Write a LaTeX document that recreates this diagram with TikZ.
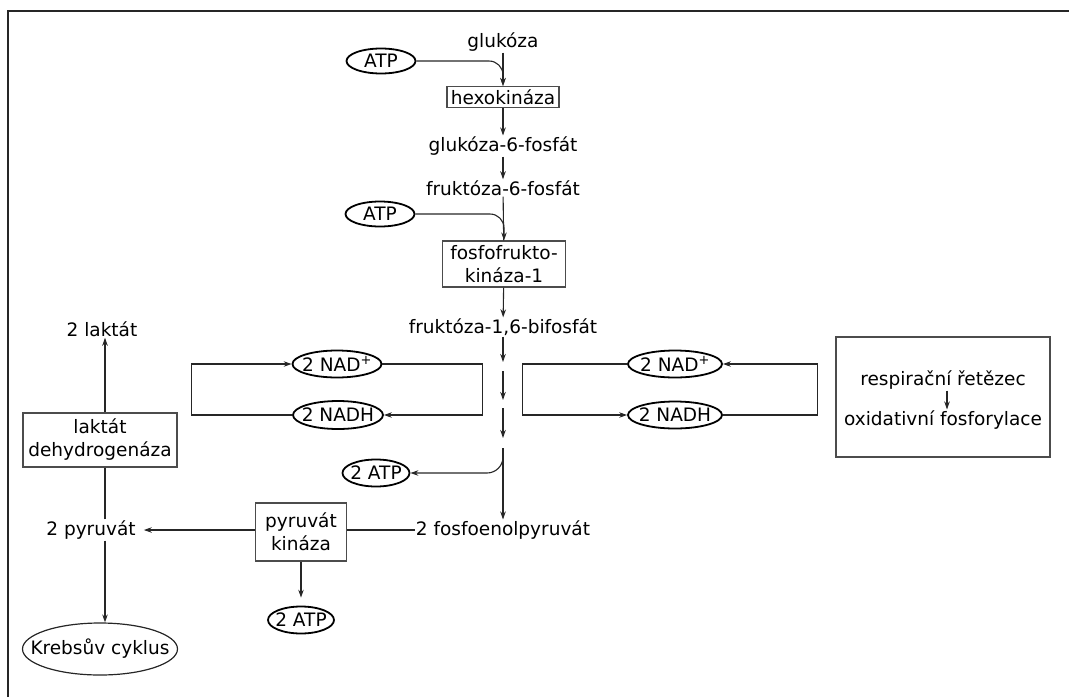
\documentclass[tikz,border=0pt]{standalone}
\usepackage{fontspec}
\setmainfont{DejaVu Sans}
\usetikzlibrary{shapes.geometric,arrows.meta}
\begin{document}
\begin{tikzpicture}[x=1pt,y=-1pt,
 font=\fontsize{18.5}{23}\selectfont,
 conn/.style={draw=black!85, line width=1.1pt},
 arr/.style={conn,-{Stealth[length=8pt,width=5.5pt]}},
 txt/.style={inner sep=1pt},
 box/.style={draw=black!70, line width=1.2pt, inner sep=0pt, align=center},
 oval/.style={ellipse, draw=black, line width=1.8pt, inner xsep=-14pt, inner ysep=0pt},
]
\useasboundingbox (0,0) rectangle (1069,697);
\draw[line width=2pt, black!85] (8,697) -- (8,11) -- (1069,11);

% main column
\node[txt] (glu) at (503,42) {glukóza};
\node[oval, minimum width=69pt, minimum height=25pt] (atp1) at (381,61) {ATP};
\node[box, minimum width=112pt, minimum height=21pt] (hexo) at (503,97) {hexokináza};
\node[txt] (g6p) at (503,146) {glukóza-6-fosfát};
\node[txt] (f6p) at (503,188) {fruktóza-6-fosfát};
\node[oval, minimum width=69pt, minimum height=25pt] (atp2) at (380,214) {ATP};
\node[box, minimum width=123pt, minimum height=46pt] (pfk) at (504,264) {fosfofrukto-\\kináza-1};
\node[txt] (f16) at (503,327) {fruktóza-1,6-bifosfát};
\node[txt] (pep) at (503,530) {2 fosfoenolpyruvát};

\draw[arr] (glu) -- (hexo);
\draw[arr, rounded corners=14pt] (atp1.east) -| (hexo.north);
\draw[arr] (hexo) -- (g6p);
\draw[arr] (g6p) -- (f6p);
\draw[conn] (f6p) -- (pfk);
\draw[arr, rounded corners=14pt] (atp2.east) -| (pfk.north);
\draw[arr] (pfk) -- (f16);

\coordinate (s1b) at (503,362);
\coordinate (s2a) at (503,371);
\coordinate (s2b) at (503,400);
\coordinate (s3a) at (503,408);
\coordinate (s3b) at (503,438);
\coordinate (s4a) at (503,448);
\draw[arr] (f16.south) -- (s1b);
\draw[arr] (s2a) -- (s2b);
\draw[arr] (s3a) -- (s3b);
\draw[arr] (s4a) -- (pep.north);

\node[oval, minimum width=67pt, minimum height=27pt] (atp3) at (376,473) {2 ATP};
\draw[arr, rounded corners=16pt] (s4a) |- (atp3.east);

% left NAD loop
\node[oval, minimum width=89pt, minimum height=27pt] (nadp1) at (337,364) {2 NAD\textsuperscript{+}};
\node[oval, minimum width=90pt, minimum height=28pt] (nadh1) at (338,415) {2 NADH};
\draw[arr] (nadp1.east) -- ++(100,0) |- (nadh1.east);
\draw[arr] (nadh1.west) -- ++(-101,0) |- (nadp1.west);

% right NAD loop
\node[oval, minimum width=94pt, minimum height=27pt] (nadp2) at (675,364) {2 NAD\textsuperscript{+}};
\node[oval, minimum width=94pt, minimum height=27pt] (nadh2) at (675,415) {2 NADH};
\draw[arr] (nadp2.west) -- ++(-105,0) |- (nadh2.west);
\draw[arr] (nadh2.east) -- ++(95,0) |- (nadp2.east);

% respiratory chain box
\node[box, minimum width=214pt, minimum height=120pt] (resp) at (943,397) {};
\node[txt] (rc) at (943,380) {respirační řetězec};
\node[txt] (of) at (943,420) {oxidativní fosforylace};
\draw[arr] ([xshift=4pt]rc.south) -- ([xshift=4pt]of.north);

% pyruvate kinase
\node[box, minimum width=91pt, minimum height=58pt] (pk) at (301,532) {pyruvát\\kináza};
\node[txt] (pyr) at (91,530) {2 pyruvát};
\node[oval, minimum width=66pt, minimum height=27pt] (atp4) at (301,620) {2 ATP};
\draw[conn] (pep.west) -- (pk.east |- pep.west);
\draw[arr, shorten >=7pt] (pk.west |- pep.west) -- (pyr.east);
\draw[arr, shorten >=8pt] (pk.south) -- (atp4.north);

% lactate and Krebs
\node[box, minimum width=154pt, minimum height=54pt] (ldh) at (100,440) {laktát\\dehydrogenáza};
\node[txt] (lak) at (102,329) {2 laktát};
\node[ellipse, draw=black!85, line width=1.2pt, minimum width=155pt, minimum height=52pt, inner xsep=-22pt, inner ysep=0pt] (krebs) at (100,649) {Krebsův cyklus};
\draw[arr] ([xshift=5pt]ldh.north) -- ([xshift=3pt]lak.south);
\draw[conn] ([xshift=14pt]pyr.north) -- ([xshift=5pt]ldh.south);
\draw[arr] ([xshift=14pt]pyr.south) -- ([xshift=5pt]krebs.north);
\end{tikzpicture}
\end{document}
